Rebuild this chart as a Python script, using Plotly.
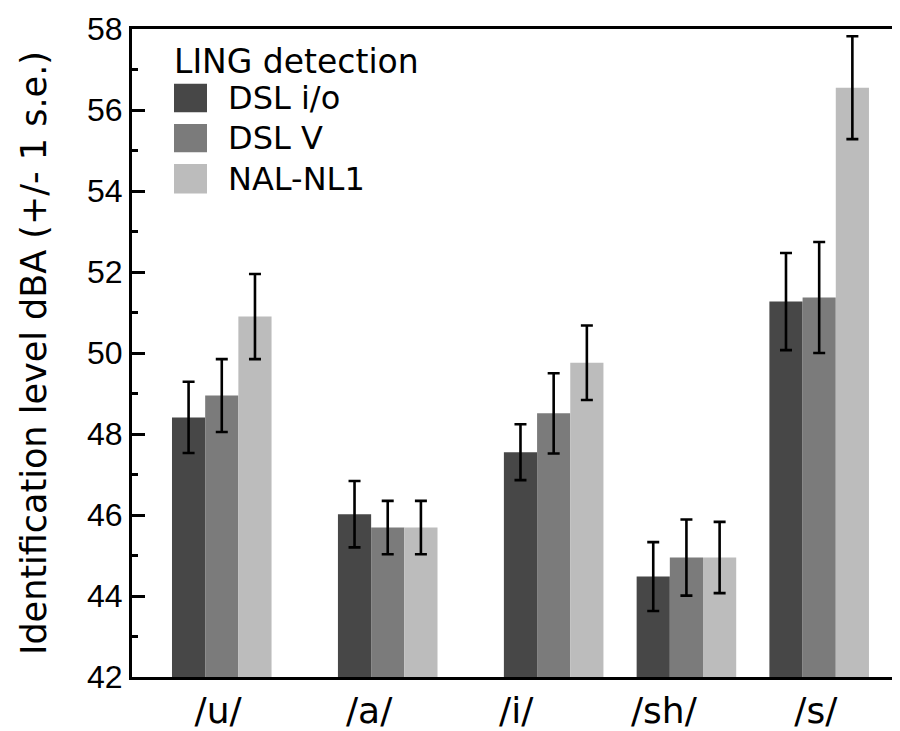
import plotly.graph_objects as go

categories = ["/u/", "/a/", "/i/", "/sh/", "/s/"]
series_names = ["DSL i/o", "DSL V", "NAL-NL1"]
dsl_io = [48.41, 46.02, 47.55, 44.48, 51.27]
dsl_io_se = [0.88, 0.82, 0.69, 0.85, 1.20]
dsl_v = [48.95, 45.69, 48.51, 44.95, 51.37]
dsl_v_se = [0.90, 0.66, 0.99, 0.94, 1.37]
nal_nl1 = [50.90, 45.69, 49.76, 44.95, 56.55]
nal_nl1_se = [1.05, 0.66, 0.92, 0.88, 1.27]
y_ticks = [42, 44, 46, 48, 50, 52, 54, 56, 58]
legend_title = "LING detection"
y_title = "Identification level dBA (+/- 1 s.e.)"

# layout (positions / styles)
group_centers = [3, 8, 13, 17, 21]
label_positions = [2.89, 7.44, 11.87, 16.32, 20.90]
offsets = [-1, 0, 1]
colors = ["#474747", "#7b7b7b", "#bcbcbc"]
values = [dsl_io, dsl_v, nal_nl1]
errors = [dsl_io_se, dsl_v_se, nal_nl1_se]

# page has an 8px body margin: shrink the figure so it fits the 900x731 window
OFF = 8
W, H = 900 - OFF, 731 - OFF
ML, MR, MT, MB = 132 - OFF, 0, 29 - OFF, 40
NUMFONT = "Liberation Sans"
FONT = "DejaVu Sans"

fig = go.Figure()
for name, vals, errs, off, col in zip(series_names, values, errors, offsets, colors):
    fig.add_trace(go.Bar(
        x=[c + off for c in group_centers],
        y=[v - 42 for v in vals],
        base=42,
        width=1.0,
        name=name,
        marker=dict(color=col, line=dict(width=0)),
        error_y=dict(type="data", array=errs, color="black", thickness=2.6, width=6),
        showlegend=False,
        hoverinfo="skip",
    ))

# dummy trace for the right-hand mirrored ticks
fig.add_trace(go.Scatter(x=[None], y=[None], yaxis="y2", showlegend=False, hoverinfo="skip"))

# manual legend (large square keys); pixel coords are page coords
pw = W - ML - MR
ph = H - MT - MB
def px(x):
    return (x - OFF - ML) / pw
def py(y):
    return (H - MB - (y - OFF)) / ph

key_rows = [(85, 114), (126, 155), (167, 197)]
for (y0, y1), name, col in zip(key_rows, series_names, colors):
    fig.add_shape(type="rect", xref="paper", yref="paper",
                  x0=px(174), x1=px(207), y0=py(y1), y1=py(y0),
                  fillcolor=col, line=dict(width=0))
    fig.add_annotation(xref="paper", yref="paper", x=px(226), y=py((y0 + y1) / 2),
                       text=name, showarrow=False, xanchor="left", yanchor="middle",
                       font=dict(family=FONT, size=32, color="black"))
fig.add_annotation(xref="paper", yref="paper", x=px(172), y=py(62),
                   text=legend_title, showarrow=False, xanchor="left", yanchor="middle",
                   font=dict(family=FONT, size=33, color="black"))

fig.update_layout(
    width=W, height=H,
    margin=dict(l=ML, r=MR, t=MT, b=MB, pad=0),
    paper_bgcolor="white", plot_bgcolor="white",
    barmode="overlay",
    font=dict(family=FONT, color="black"),
    xaxis=dict(
        range=[0.295, 23.435],
        tickvals=label_positions, ticktext=categories,
        ticks="", showgrid=False, zeroline=False,
        showline=True, linecolor="black", linewidth=3, mirror=True,
        tickfont=dict(family=FONT, size=36, color="black"),
    ),
    yaxis=dict(
        range=[42, 58],
        tickvals=y_ticks,
        ticks="inside", ticklen=13, tickwidth=2.5, tickcolor="black",
        minor=dict(dtick=1, ticks="inside", ticklen=6, tickwidth=2.5, tickcolor="black", showgrid=False),
        showgrid=False, zeroline=False,
        showline=True, linecolor="black", linewidth=3,
        tickfont=dict(family=NUMFONT, size=32, color="black"),
        title=dict(text=y_title, font=dict(family=FONT, size=35, color="black"), standoff=30),
    ),
    yaxis2=dict(
        range=[42, 58], overlaying="y", side="right",
        tickvals=y_ticks, showticklabels=False,
        ticks="inside", ticklen=4, tickwidth=2.5, tickcolor="black",
        minor=dict(dtick=1, ticks="inside", ticklen=3, tickwidth=2, tickcolor="#dddddd", showgrid=False),
        showgrid=False, zeroline=False, showline=False,
    ),
)

fig.write_html("out.html")
